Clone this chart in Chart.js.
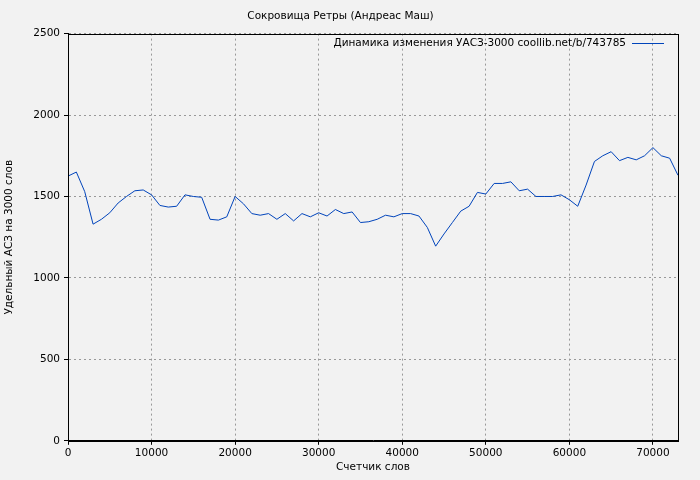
<!DOCTYPE html><html><head><meta charset="utf-8">
<script src="https://cdn.jsdelivr.net/npm/chart.js@4"></script>
<style>html,body{margin:0;background:#f2f2f2}#w{width:700px;height:480px}</style></head><body><div id="w"><canvas id="c"></canvas></div>
<script>
const xWords=[0,1000,2000,3000,4000,5000,6000,7000,8000,9000,10000,11000,12000,13000,14000,15000,16000,17000,18000,19000,20000,21000,22000,23000,24000,25000,26000,27000,28000,29000,30000,31000,32000,33000,34000,35000,36000,37000,38000,39000,40000,41000,42000,43000,44000,45000,46000,47000,48000,49000,50000,51000,52000,53000,54000,55000,56000,57000,58000,59000,60000,61000,62000,63000,64000,65000,66000,67000,68000,69000,70000,71000,72000,73000];
const yVals=[1625,1650,1530,1330,1360,1400,1460,1500,1535,1540,1510,1445,1435,1440,1510,1500,1495,1360,1355,1375,1500,1455,1395,1385,1395,1360,1395,1350,1395,1375,1400,1380,1420,1395,1405,1340,1345,1360,1385,1375,1395,1395,1380,1310,1195,1270,1340,1410,1440,1525,1515,1580,1580,1590,1535,1545,1500,1500,1500,1510,1480,1440,1570,1715,1750,1775,1720,1740,1725,1750,1800,1750,1735,1630];
const xTicks=[0,10000,20000,30000,40000,50000,60000,70000];
const yTicks=[0,500,1000,1500,2000,2500];
const title='Сокровища Ретры (Андреас Маш)';
const seriesLabel='Динамика изменения УАСЗ-3000 coollib.net/b/743785';
const xTitle='Счетчик слов', yTitle='Удельный АСЗ на 3000 слов';
const F='DejaVu Sans', FS=10.5;
const legendPlugin={id:'lg',afterDraw(ch){const a=ch.chartArea,c=ch.ctx;c.save();c.font=FS+'px '+F;c.fillStyle='#000';c.textAlign='right';c.textBaseline='middle';c.fillText(seriesLabel,a.right-52,43);c.strokeStyle='#0044bb';c.lineWidth=1;c.beginPath();c.moveTo(a.right-46,43.5);c.lineTo(a.right-14,43.5);c.stroke();c.restore();}};
new Chart(document.getElementById('c'),{type:'line',
data:{datasets:[{data:xWords.map((x,i)=>({x,y:yVals[i]})),borderColor:'#0044bb',borderWidth:1,pointRadius:0,tension:0}]},
options:{responsive:true,maintainAspectRatio:false,animation:false,
layout:{padding:{top:0,right:22,bottom:6,left:3}},
plugins:{legend:{display:false},tooltip:{enabled:false},title:{display:true,text:title,color:'#000',font:{family:F,size:FS,weight:'normal'},padding:{top:10,bottom:11}}},
scales:{x:{type:'linear',min:0,max:73000,afterBuildTicks(s){s.ticks=xTicks.map(v=>({value:v}));},
 ticks:{color:'#000',font:{family:F,size:FS},maxRotation:0,padding:2,callback:v=>String(v)},
 grid:{color:'#999',tickColor:'#000',tickLength:4},border:{color:'#000',dash:[2,3],width:1},
 title:{display:true,text:xTitle,color:'#000',font:{family:F,size:FS},padding:{top:0,bottom:0}}},
 y:{min:0,max:2500,afterFit(s){s.width=65;},afterBuildTicks(s){s.ticks=yTicks.map(v=>({value:v}));},
 ticks:{color:'#000',font:{family:F,size:FS},padding:4,callback:v=>String(v)},
 grid:{color:'#999',tickColor:'#000',tickLength:4},border:{color:'#000',dash:[2,3]},
 title:{display:true,text:yTitle,color:'#000',font:{family:F,size:FS},padding:{top:0,bottom:4}}}}},
plugins:[legendPlugin,{id:'bg',beforeDraw(ch){const c=ch.ctx;c.save();c.fillStyle='#f2f2f2';c.fillRect(0,0,ch.width,ch.height);c.restore();},
afterDraw(ch){const a=ch.chartArea,c=ch.ctx;c.save();c.strokeStyle='#000';c.lineWidth=1;c.strokeRect(Math.round(a.left)+0.5,Math.round(a.top)+0.5,Math.round(a.right-a.left),Math.round(a.bottom-a.top));c.restore();}}]});
</script></body></html>
